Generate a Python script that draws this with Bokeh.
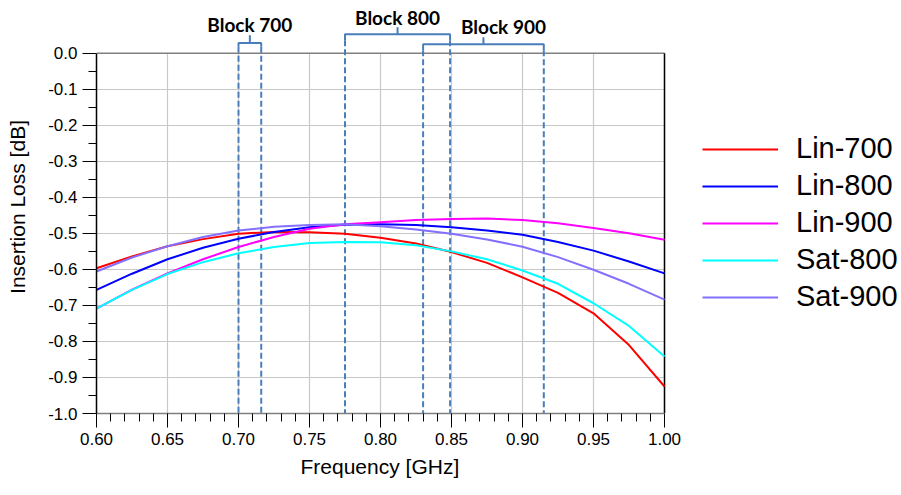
from bokeh.plotting import figure
from bokeh.models import (FixedTicker, Legend, LegendItem, ColumnDataSource,
                          NumeralTickFormatter, Title)
from bokeh.embed import file_html
from bokeh.resources import INLINE
from bokeh.core.properties import value

# ---------------- data ----------------
FREQ = [0.600, 0.625, 0.650, 0.675, 0.700, 0.725, 0.750, 0.775, 0.800,
        0.825, 0.850, 0.875, 0.900, 0.925, 0.950, 0.975, 1.000]
LIN_700 = [-0.597, -0.564, -0.536, -0.516, -0.501, -0.496, -0.497, -0.501, -0.512,
           -0.528, -0.552, -0.582, -0.622, -0.665, -0.722, -0.810, -0.925]
LIN_800 = [-0.657, -0.612, -0.572, -0.540, -0.515, -0.496, -0.483, -0.476, -0.475,
           -0.477, -0.483, -0.492, -0.504, -0.524, -0.548, -0.578, -0.611]
LIN_900 = [-0.709, -0.656, -0.611, -0.572, -0.538, -0.510, -0.487, -0.475, -0.469,
           -0.463, -0.460, -0.459, -0.463, -0.472, -0.485, -0.500, -0.518]
SAT_800 = [-0.709, -0.657, -0.613, -0.580, -0.555, -0.538, -0.527, -0.524, -0.525,
           -0.533, -0.550, -0.572, -0.603, -0.640, -0.694, -0.757, -0.842]
SAT_900 = [-0.606, -0.567, -0.536, -0.510, -0.492, -0.482, -0.477, -0.475, -0.480,
           -0.489, -0.501, -0.517, -0.537, -0.566, -0.601, -0.640, -0.684]
SERIES_NAMES = ["Lin-700", "Lin-800", "Lin-900", "Sat-800", "Sat-900"]

BLOCK_NAMES = ["Block 700", "Block 800", "Block 900"]
BLOCK_LO = [0.700, 0.775, 0.830]
BLOCK_HI = [0.716, 0.849, 0.915]

X_TICKS = [0.60, 0.65, 0.70, 0.75, 0.80, 0.85, 0.90, 0.95, 1.00]
X_TICK_LABELS = ["0.60", "0.65", "0.70", "0.75", "0.80", "0.85", "0.90", "0.95", "1.00"]
Y_TICKS = [0.0, -0.1, -0.2, -0.3, -0.4, -0.5, -0.6, -0.7, -0.8, -0.9, -1.0]
Y_TICK_LABELS = ["0.0", "-0.1", "-0.2", "-0.3", "-0.4", "-0.5", "-0.6", "-0.7",
                 "-0.8", "-0.9", "-1.0"]
X_LABEL = "Frequency [GHz]"
Y_LABEL = "Insertion Loss [dB]"

# ---------------- styles / layout ----------------
COLORS = ["#ff0000", "#0000ff", "#ff00ff", "#00ffff", "#8470ff"]
BLOCK_COLOR = "#4a7ebb"
X_LO, X_HI = 0.6, 1.0
Y_LO, Y_HI = -1.0, 0.0
W, H = 898, 494
LEFT, BOTTOM = 96, 81
PX_PER_X = 1420.0      # pixels per GHz
PX_PER_Y = 360.3       # pixels per dB
X_VIEW_HI = X_LO + (W - LEFT) / PX_PER_X
Y_VIEW_TOP = Y_LO + (H - BOTTOM) / PX_PER_Y
X_TITLE_OFFSET = 204   # px from frame left so the title sits under 0.60-1.00 centre

# bracket geometry (y in data units): level, leg length, nub height
BR_LEVEL = [0.0286, 0.0528, 0.0250]
BR_LEG = [0.011, 0.0167, 0.0167]
BR_NUB = [0.0214, 0.0194, 0.0194]
LABEL_Y = [0.0805, 0.0985, 0.0752]
LABEL_DX = [0, 0, 20]

X_MINOR = [round(X_LO + i * 0.01, 2) for i in range(41)]
X_MINOR = [t for t in X_MINOR if all(abs(t - m) > 1e-9 for m in X_TICKS)]
Y_MINOR = [round(-0.05 - i * 0.1, 2) for i in range(10)]

p = figure(width=W, height=H, x_range=(X_LO, X_VIEW_HI), y_range=(Y_LO, Y_VIEW_TOP),
           output_backend="svg", toolbar_location=None,
           min_border_left=LEFT, min_border_right=0, min_border_top=0,
           min_border_bottom=BOTTOM)
p.outline_line_color = None
p.background_fill_color = "white"
p.border_fill_color = "white"

FONT = "Liberation Sans"
xa = p.xaxis[0]
ya = p.yaxis[0]
xa.ticker = FixedTicker(ticks=X_TICKS, minor_ticks=X_MINOR)
ya.ticker = FixedTicker(ticks=Y_TICKS, minor_ticks=Y_MINOR)
xa.formatter = NumeralTickFormatter(format="0.00")
ya.formatter = NumeralTickFormatter(format="0.0")
xa.major_label_overrides = dict(zip(X_TICKS, X_TICK_LABELS))
ya.major_label_overrides = dict(zip(Y_TICKS, Y_TICK_LABELS))
ya.bounds = (Y_LO, Y_HI)
xa.bounds = (X_LO, X_HI)
ya.axis_label = Y_LABEL
for ax in (xa, ya):
    ax.major_label_text_font = FONT
    ax.major_label_text_font_size = "17px"
    ax.major_label_text_color = "black"
    ax.axis_label_text_font = FONT
    ax.axis_label_text_font_size = "21px"
    ax.axis_label_text_font_style = "normal"
    ax.axis_label_text_color = "black"
    ax.major_tick_out = 14
    ax.major_tick_in = 0
    ax.minor_tick_out = 8
    ax.minor_tick_in = 0
    ax.major_tick_line_color = "black"
    ax.minor_tick_line_color = "black"
    ax.major_label_standoff = 5
ya.axis_line_color = "black"
ya.axis_line_width = 1.5
xa.axis_line_color = "#7f7f7f"
xa.axis_line_width = 1.5
ya.axis_label_standoff = 16

# x-axis title placed under the 0.60-1.00 span (frame extends right for the legend)
xtitle = Title(text=X_LABEL, align="left", offset=X_TITLE_OFFSET,
               text_font=FONT, text_font_size="21px", text_font_style="normal",
               text_color="black", standoff=11)
p.add_layout(xtitle, "below")

p.xgrid.ticker = FixedTicker(ticks=X_TICKS)
p.ygrid.ticker = FixedTicker(ticks=Y_TICKS)
p.xgrid.cross_bounds = (Y_LO, Y_HI)
p.ygrid.cross_bounds = (X_LO, X_HI)
for g in (p.xgrid[0], p.ygrid[0]):
    g.grid_line_color = "#c8c8c8"
    g.grid_line_width = 1.2

# frame: top gray line, right black line
p.segment(x0=[X_LO], y0=[Y_HI], x1=[X_HI], y1=[Y_HI], line_color="#808080", line_width=1.5)
p.segment(x0=[X_HI], y0=[Y_LO], x1=[X_HI], y1=[Y_HI], line_color="black", line_width=1.5)

# dashed block edges
edge_x, edge_top = [], []
for lo, hi, lv, lg in zip(BLOCK_LO, BLOCK_HI, BR_LEVEL, BR_LEG):
    edge_x += [lo, hi]
    edge_top += [lv - lg, lv - lg]
p.segment(x0=edge_x, y0=edge_top, x1=edge_x, y1=[Y_LO] * len(edge_x),
          line_color=BLOCK_COLOR, line_width=2, line_dash="6 3")

# curves
renderers = []
for name, vals, c in zip(SERIES_NAMES, [LIN_700, LIN_800, LIN_900, SAT_800, SAT_900], COLORS):
    r = p.line(FREQ, vals, line_color=c, line_width=2)
    renderers.append(r)

# brackets
bxs, bys, mids = [], [], []
for lo, hi, lv, lg, nb in zip(BLOCK_LO, BLOCK_HI, BR_LEVEL, BR_LEG, BR_NUB):
    m = (lo + hi) / 2
    mids.append(m)
    bxs.append([lo, lo, m, m, m, hi, hi])
    bys.append([lv - lg, lv, lv, lv + nb, lv, lv, lv - lg])
p.multi_line(xs=bxs, ys=bys, line_color=BLOCK_COLOR, line_width=2)

lab_src = ColumnDataSource(dict(x=mids, y=LABEL_Y, text=BLOCK_NAMES, dx=LABEL_DX))
p.text(x="x", y="y", text="text", x_offset="dx", source=lab_src,
       text_font=value("Lato"), text_font_style="bold", text_font_size="19px",
       text_align="center", text_baseline="middle", text_color="black")

legend = Legend(items=[LegendItem(label=n, renderers=[r]) for n, r in zip(SERIES_NAMES, renderers)],
                location=(606, 100), orientation="vertical")
legend.label_text_font = FONT
legend.label_text_font_size = "29px"
legend.label_text_color = "black"
legend.glyph_width = 76
legend.glyph_height = 32
legend.label_height = 32
legend.label_standoff = 18
legend.spacing = 4
legend.padding = 0
legend.margin = 0
legend.border_line_color = None
legend.background_fill_alpha = 0
p.add_layout(legend, "center")

open("out.html", "w").write(file_html(p, INLINE))
